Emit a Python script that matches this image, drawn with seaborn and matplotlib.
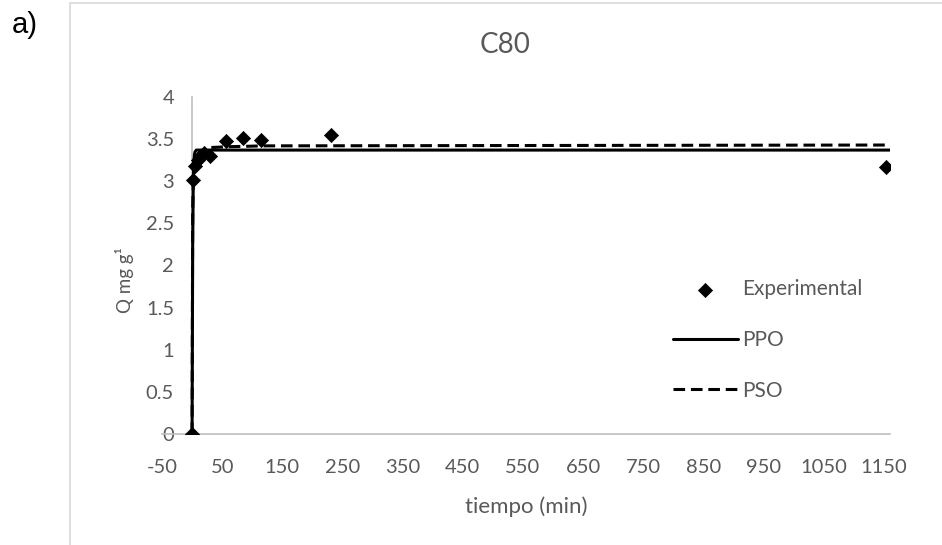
import matplotlib
matplotlib.use("Agg")
import matplotlib.pyplot as plt
import seaborn as sns
import pandas as pd
from matplotlib.patches import Rectangle

# ---- data ----
exp_t = [0, 2, 5, 10, 15, 20, 30, 56, 85, 114, 231, 1153]
exp_q = [0, 3.02, 3.18, 3.25, 3.30, 3.33, 3.30, 3.48, 3.51, 3.49, 3.55, 3.17]

ppo_t = [0, 1, 2, 3, 4, 5, 7, 10, 20, 1160]
ppo_q = [0, 2.25, 3.00, 3.24, 3.32, 3.35, 3.37, 3.37, 3.37, 3.37]

pso_t = [0, 1, 2, 3, 5, 10, 20, 30, 60, 120, 1160]
pso_q = [0, 2.67, 3.00, 3.13, 3.25, 3.33, 3.38, 3.40, 3.41, 3.42, 3.43]

xticks = list(range(-50, 1151, 100))
yticks = [0, 0.5, 1, 1.5, 2, 2.5, 3, 3.5, 4]
ytick_labels = ["0", "0.5", "1", "1.5", "2", "2.5", "3", "3.5", "4"]

sns.set_theme(style="white")
plt.rcParams['font.family'] = ['Lato', 'DejaVu Sans']

W, H = 942, 545
fig = plt.figure(figsize=(W / 100, H / 100), dpi=100)
ax = fig.add_axes([162 / W, 1 - 434 / H, (890 - 162) / W, (434 - 97) / H])

gray = "#595959"
axis_gray = "#BFBFBF"

df_exp = pd.DataFrame({"t": exp_t, "q": exp_q})
df_ppo = pd.DataFrame({"t": ppo_t, "q": ppo_q})
df_pso = pd.DataFrame({"t": pso_t, "q": pso_q})

sns.scatterplot(data=df_exp, x="t", y="q", ax=ax, marker="D", s=52, color="black",
                edgecolor="black", linewidth=0.5, zorder=5, label="Experimental")
sns.lineplot(data=df_ppo, x="t", y="q", ax=ax, color="black", linewidth=2.2,
             label="PPO", zorder=3)
sns.lineplot(data=df_pso, x="t", y="q", ax=ax, color="black", linewidth=2.2,
             dashes=False, label="PSO", zorder=4)
ax.lines[-1].set_dashes([3.8, 1.9])

ax.set_xlim(-50, 1160)
ax.set_ylim(0, 4)
ax.set_xticks(xticks)
ax.set_xticklabels([str(v) for v in xticks])
ax.set_yticks(yticks)
ax.set_yticklabels(ytick_labels)

for s in ["top", "right"]:
    ax.spines[s].set_visible(False)
ax.spines["left"].set_position(("data", 0))
ax.spines["left"].set_color(axis_gray)
ax.spines["bottom"].set_color(axis_gray)
ax.spines["left"].set_linewidth(1.2)
ax.spines["bottom"].set_linewidth(1.2)
ax.spines["left"].set_zorder(1)

ax.tick_params(axis="x", length=0, pad=18, labelsize=14.5, labelcolor=gray)
ax.tick_params(axis="y", length=0, pad=13, labelsize=14.5, labelcolor=gray)
ax.set_xlabel("tiempo (min)", fontsize=16, color=gray, labelpad=15)
ax.set_ylabel("")

fig.text(125 / W, 1 - 280 / H, "Q mg g\u00b9", rotation=90, ha="center", va="center",
         fontsize=13.5, color=gray)
fig.text(505 / W, 1 - 45 / H, "C80", ha="center", va="center", fontsize=20, color=gray)
fig.text(12 / W, 1 - 25 / H, "a)", ha="left", va="center", fontsize=21, color="black",
         family=["Liberation Sans", "DejaVu Sans"])

fig.add_artist(Rectangle((70 / W, -0.05), 1.0, 1 - 3 / H + 0.05, transform=fig.transFigure,
                         fill=False, edgecolor="#D9D9D9", linewidth=1.2))

leg = ax.legend(loc="upper left", bbox_to_anchor=((673 - 162) / (890 - 162), (434 - 279) / (434 - 97)),
                frameon=False, fontsize=15, handlelength=3.1, labelspacing=1.48,
                handletextpad=0.2, borderaxespad=0, borderpad=0)
for t in leg.get_texts():
    t.set_color(gray)

fig.savefig("out.png", dpi=100)
